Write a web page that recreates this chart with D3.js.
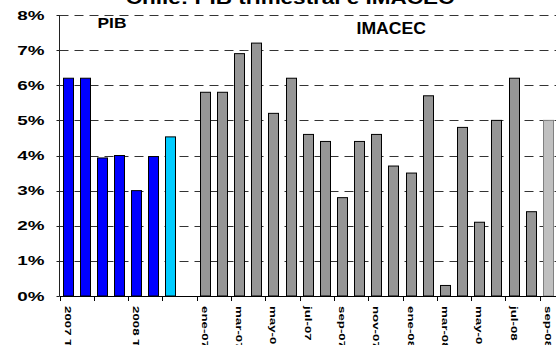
<!DOCTYPE html>
<html>
<head>
<meta charset="utf-8">
<script src="https://cdn.jsdelivr.net/npm/d3@7"></script>
<style>
  body { margin: 0; background: #fff; }
  text { font-family: "Liberation Sans", Arial, sans-serif; font-weight: bold; fill: #000; }
</style>
</head>
<body>
<svg id="chart" width="556" height="345"></svg>
<script>
// Quarterly GDP growth (PIB), % yoy; last quarter is preliminary
const pibQuarters = ["2007 T1", "2007 T2", "2007 T3", "2007 T4", "2008 T1", "2008 T2", "2008 T3"];
const pibValues = [6.2, 6.2, 3.93, 4.0, 3.0, 3.97, 4.53];
const pibTickLabels = ["2007 T", "", "", "", "2008 T", "", ""];

// Monthly activity index (IMACEC), % yoy; last month is preliminary
const imacecMonths = ["ene-07", "feb-07", "mar-07", "abr-07", "may-07", "jun-07", "jul-07", "ago-07",
  "sep-07", "oct-07", "nov-07", "dic-07", "ene-08", "feb-08", "mar-08", "abr-08", "may-08",
  "jun-08", "jul-08", "ago-08", "sep-08"];
const imacecValues = [5.8, 5.8, 6.9, 7.2, 5.2, 6.2, 4.6, 4.4, 2.8, 4.4, 4.6, 3.7, 3.5, 5.7, 0.3,
  4.8, 2.1, 5.0, 6.2, 2.4, 5.0];
const imacecTickLabels = ["ene-07", "", "mar-07", "", "may-07", "", "jul-07", "", "sep-07", "",
  "nov-07", "", "ene-08", "", "mar-08", "", "may-08", "", "jul-08", "", "sep-08"];

const yTicks = [0, 1, 2, 3, 4, 5, 6, 7, 8];
const titleText = "Chile: PIB trimestral e IMACEC";

const svg = d3.select("#chart");
const plotLeft = 59.5, plotRight = 556.9, plotTop = 15, plotBottom = 296;

// one empty slot separates the two series
const rows = [
  ...pibQuarters.map((k, i) => ({ key: k, value: pibValues[i], label: pibTickLabels[i],
    fill: i === pibQuarters.length - 1 ? "#00CCFF" : "#0000FF", stroke: "#000" })),
  { key: "sep", value: null, label: "" },
  ...imacecMonths.map((k, i) => ({ key: k, value: imacecValues[i], label: imacecTickLabels[i],
    fill: i === imacecMonths.length - 1 ? "#C0C0C0" : "#969696",
    stroke: i === imacecMonths.length - 1 ? "#808080" : "#000" }))
];

const x = d3.scaleBand().domain(rows.map(d => d.key)).range([plotLeft, plotRight])
  .paddingInner(0.36).paddingOuter(0.18);
const y = d3.scaleLinear().domain([0, 8]).range([plotBottom, plotTop]);

// dashed gridlines
svg.append("g").selectAll("line").data(yTicks.filter(t => t > 0)).join("line")
  .attr("x1", plotLeft).attr("x2", 556)
  .attr("y1", d => Math.round(y(d)) + 0.5).attr("y2", d => Math.round(y(d)) + 0.5)
  .attr("stroke", "#333").attr("stroke-width", 1).attr("stroke-dasharray", "9,6");

// bars
svg.append("g").selectAll("rect").data(rows.filter(d => d.value !== null)).join("rect")
  .attr("x", d => Math.round(x(d.key)) + 0.5)
  .attr("width", Math.round(x.bandwidth()) - 1)
  .attr("y", d => y(d.value))
  .attr("height", d => plotBottom - y(d.value))
  .attr("fill", d => d.fill).attr("stroke", d => d.stroke).attr("stroke-width", 1);

// y axis
const yAxis = svg.append("g");
yAxis.append("line").attr("x1", plotLeft).attr("x2", plotLeft).attr("y1", plotTop).attr("y2", plotBottom)
  .attr("stroke", "#222");
yAxis.selectAll("line.tk").data(yTicks).join("line").attr("class", "tk")
  .attr("x1", plotLeft - 3).attr("x2", plotLeft)
  .attr("y1", d => Math.round(y(d)) + 0.5).attr("y2", d => Math.round(y(d)) + 0.5)
  .attr("stroke", "#222");
yAxis.selectAll("text").data(yTicks).join("text")
  .attr("transform", d => `translate(44.5,${y(d) + 4.6}) scale(1.45,1)`)
  .attr("text-anchor", "end").attr("font-size", 13)
  .text(d => d + "%");

// x axis: ticks at every second category boundary
const xAxis = svg.append("g");
xAxis.append("line").attr("x1", plotLeft).attr("x2", 556).attr("y1", plotBottom + 0.5).attr("y2", plotBottom + 0.5)
  .attr("stroke", "#000");
const boundary = d => x(d.key) - x.step() * x.paddingInner() / 2;
xAxis.selectAll("line.tk").data(rows.filter((d, i) => i % 2 === 0)).join("line").attr("class", "tk")
  .attr("x1", d => Math.round(boundary(d)) + 0.5).attr("x2", d => Math.round(boundary(d)) + 0.5)
  .attr("y1", plotBottom).attr("y2", plotBottom + 5).attr("stroke", "#000");
xAxis.selectAll("text").data(rows.filter(d => d.label)).join("text")
  .attr("transform", d => `translate(${x(d.key) + x.bandwidth() / 2},306) rotate(90) scale(1.4,1)`)
  .attr("dy", "0.36em").attr("font-size", 9.5)
  .text(d => d.label);

// series names and title
svg.append("text").attr("transform", "translate(97.5,28.3) scale(1.12,1)")
  .attr("font-size", 15.5).text("PIB");
svg.append("text").attr("transform", "translate(356.5,34) scale(1.1,1)")
  .attr("font-size", 16).text("IMACEC");
svg.append("text").attr("transform", "translate(290,4) scale(1.25,1)")
  .attr("text-anchor", "middle").attr("font-size", 18).text(titleText);
</script>
</body>
</html>
